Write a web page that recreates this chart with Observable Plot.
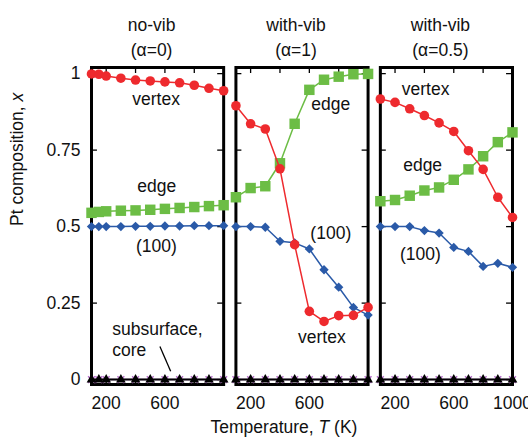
<!DOCTYPE html>
<html>
<head>
<meta charset="utf-8">
<script src="https://cdn.jsdelivr.net/npm/d3@7"></script>
<script src="https://cdn.jsdelivr.net/npm/@observablehq/plot@0.6"></script>
<style>
  html, body { margin: 0; padding: 0; background: #fff; }
</style>
</head>
<body>
<div id="chart"></div>
<script>
// ---- data ----
const panels = ["no-vib", "with-vib a1", "with-vib a0.5"];
const panelTitles = ["no-vib\n(\u03b1=0)", "with-vib\n(\u03b1=1)", "with-vib\n(\u03b1=0.5)"];

const tempsNoVib = [100, 150, 200, 300, 400, 500, 600, 700, 800, 900, 1000];
const tempsVib = [100, 200, 300, 400, 500, 600, 700, 800, 900, 1000];

const vertexNoVib = [0.999, 0.998, 0.992, 0.985, 0.979, 0.976, 0.973, 0.970, 0.962, 0.952, 0.944];
const edgeNoVib   = [0.545, 0.548, 0.550, 0.552, 0.553, 0.555, 0.558, 0.561, 0.564, 0.567, 0.570];
const faceNoVib   = [0.500, 0.500, 0.500, 0.500, 0.501, 0.501, 0.502, 0.502, 0.503, 0.503, 0.503];
const subNoVib    = [0, 0, 0, 0, 0, 0, 0, 0, 0, 0, 0];
const coreNoVib   = [0, 0, 0, 0, 0, 0, 0, 0, 0, 0, 0];

const vertexVib1 = [0.895, 0.836, 0.819, 0.689, 0.441, 0.223, 0.190, 0.209, 0.210, 0.236];
const edgeVib1   = [0.596, 0.626, 0.632, 0.707, 0.836, 0.947, 0.980, 0.990, 0.998, 0.999];
const faceVib1   = [0.500, 0.500, 0.498, 0.452, 0.447, 0.427, 0.359, 0.302, 0.236, 0.211];
const subVib1    = [0, 0, 0, 0, 0, 0, 0, 0, 0, 0];
const coreVib1   = [0, 0, 0, 0, 0, 0, 0, 0, 0, 0];

const vertexVib05 = [0.917, 0.906, 0.885, 0.863, 0.839, 0.811, 0.748, 0.687, 0.596, 0.530];
const edgeVib05   = [0.583, 0.587, 0.601, 0.618, 0.628, 0.653, 0.687, 0.730, 0.776, 0.808];
const faceVib05   = [0.500, 0.500, 0.500, 0.487, 0.479, 0.432, 0.419, 0.370, 0.380, 0.367];
const subVib05    = [0, 0, 0, 0, 0, 0, 0, 0, 0, 0];
const coreVib05   = [0, 0, 0, 0, 0, 0, 0, 0, 0, 0];

const yTicks = [0, 0.25, 0.5, 0.75, 1];
const yTickLabels = ["0", "0.25", "0.5", "0.75", "1"];
const xTickMarks = [200, 400, 600, 800];
const xTickLabelsByPanel = [[200, 600], [200, 600], [200, 600, 1000]];

// annotation labels (label anchor in data space: T, x)
const annotations = [
  {panel: 0, T: 540, x: 0.915, label: "vertex", anchor: "middle"},
  {panel: 0, T: 545, x: 0.631, label: "edge", anchor: "middle"},
  {panel: 0, T: 542, x: 0.435, label: "(100)", anchor: "middle"},
  {panel: 0, T: 241, x: 0.134, label: "subsurface,\ncore", anchor: "start"},
  {panel: 1, T: 746, x: 0.898, label: "edge", anchor: "middle"},
  {panel: 1, T: 746, x: 0.479, label: "(100)", anchor: "middle"},
  {panel: 1, T: 685, x: 0.138, label: "vertex", anchor: "middle"},
  {panel: 2, T: 408, x: 0.950, label: "vertex", anchor: "middle"},
  {panel: 2, T: 388, x: 0.699, label: "edge", anchor: "middle"},
  {panel: 2, T: 373, x: 0.408, label: "(100)", anchor: "middle"}
];
const leader = [{panel: 0, T1: 566, x1: 0.108, T2: 639, x2: 0.027}];

// ---- build tables ----
const seriesByPanel = [
  {temps: tempsNoVib, vertex: vertexNoVib, edge: edgeNoVib, face: faceNoVib, sub: subNoVib, core: coreNoVib},
  {temps: tempsVib, vertex: vertexVib1, edge: edgeVib1, face: faceVib1, sub: subVib1, core: coreVib1},
  {temps: tempsVib, vertex: vertexVib05, edge: edgeVib05, face: faceVib05, sub: subVib05, core: coreVib05}
];
const rows = [];
seriesByPanel.forEach((s, i) => {
  for (const key of ["core", "sub", "face", "edge", "vertex"]) {
    s.temps.forEach((T, j) => rows.push({panel: panels[i], series: key, T, x: s[key][j]}));
  }
});
const of = k => rows.filter(d => d.series === k);

const titleRows = panels.map((p, i) => ({panel: p, title: panelTitles[i]}));
const xLabelRows = [];
xTickLabelsByPanel.forEach((arr, i) => arr.forEach(T => xLabelRows.push({panel: panels[i], T})));
const yLabelRows = yTicks.map((v, i) => ({panel: panels[0], v, label: yTickLabels[i]}));
const annRows = annotations.map(a => ({...a, panel: panels[a.panel]}));
const leaderRows = leader.map(a => ({...a, panel: panels[a.panel]}));

const RED = "#ee2a2e", GREEN = "#6cbd45", BLUE = "#2a5aa8", PURPLE = "#b56bc9";
const FS = 17.5;
const tickLen = 6;
const frameH = 384 - 67;
const bandW = 132.2;

const chart = Plot.plot({
  width: 528,
  height: 438,
  marginLeft: 91,
  marginRight: 16,
  marginTop: 67,
  marginBottom: 54,
  style: {fontFamily: "'Liberation Sans', Arial, sans-serif", fontSize: FS + "px", background: "#fff", color: "#111"},
  fx: {domain: panels, paddingInner: 0.085, paddingOuter: 0, round: false, axis: null, label: null},
  x: {domain: [100, 1000], axis: null},
  y: {domain: [-0.016, 1.02], axis: null},
  marks: [
    Plot.frame({stroke: "black", strokeWidth: 3}),
    // inward ticks
    Plot.tickX(xTickMarks, {x: d => d, insetTop: frameH - tickLen, stroke: "black", strokeWidth: 1.3}),
    Plot.tickX(xTickMarks, {x: d => d, insetBottom: frameH - tickLen, stroke: "black", strokeWidth: 1.3}),
    Plot.tickY(yTicks, {y: d => d, insetRight: bandW - tickLen, stroke: "black", strokeWidth: 1.3}),
    Plot.tickY(yTicks, {y: d => d, insetLeft: bandW - tickLen, stroke: "black", strokeWidth: 1.3}),
    // subsurface & core
    Plot.line(of("sub"), {x: "T", y: "x", fx: "panel", stroke: PURPLE, strokeWidth: 1.5}),
    Plot.dot(of("sub"), {x: "T", y: "x", fx: "panel", symbol: "times", stroke: PURPLE, strokeWidth: 1.5, r: 3.2}),
    Plot.line(of("core"), {x: "T", y: "x", fx: "panel", stroke: "black", strokeWidth: 2}),
    Plot.dot(of("core"), {x: "T", y: "x", fx: "panel", symbol: "triangle", fill: "black", r: 3.6}),
    // (100)
    Plot.line(of("face"), {x: "T", y: "x", fx: "panel", stroke: BLUE, strokeWidth: 1.5}),
    Plot.dot(of("face"), {x: "T", y: "x", fx: "panel", symbol: "diamond2", fill: BLUE, r: 4.2}),
    // edge
    Plot.line(of("edge"), {x: "T", y: "x", fx: "panel", stroke: GREEN, strokeWidth: 1.5}),
    Plot.dot(of("edge"), {x: "T", y: "x", fx: "panel", symbol: "square", fill: GREEN, r: 5.9}),
    // vertex
    Plot.line(of("vertex"), {x: "T", y: "x", fx: "panel", stroke: RED, strokeWidth: 1.5}),
    Plot.dot(of("vertex"), {x: "T", y: "x", fx: "panel", symbol: "circle", fill: RED, r: 4.8}),
    // annotations
    Plot.text(annRows.filter(a => a.anchor === "middle"), {x: "T", y: "x", fx: "panel", text: "label", fill: "#111"}),
    Plot.text(annRows.filter(a => a.anchor === "start"), {x: "T", y: "x", fx: "panel", text: "label", textAnchor: "start", lineHeight: 1.2, fill: "#111"}),
    Plot.link(leaderRows, {x1: "T1", y1: "x1", x2: "T2", y2: "x2", fx: "panel", stroke: "black", strokeWidth: 1.3}),
    // tick labels
    Plot.text(xLabelRows, {x: "T", fx: "panel", frameAnchor: "bottom", lineAnchor: "middle", text: d => String(d.T), dy: 19, fill: "#111"}),
    Plot.text(yLabelRows, {y: "v", fx: "panel", frameAnchor: "left", text: "label", textAnchor: "end", dx: -11, fill: "#111"}),
    // facet titles
    Plot.text(titleRows, {fx: "panel", frameAnchor: "top", lineAnchor: "middle", text: "title", dy: -32.5, dx: -6, lineHeight: 1.43, fill: "#111"}),
    // axis titles
    Plot.text([{panel: panels[0]}], {fx: "panel", frameAnchor: "left", text: () => "Pt composition, x", rotate: -90, dx: -74, fill: "#111"}),
    Plot.text([{panel: panels[1]}], {fx: "panel", frameAnchor: "bottom", lineAnchor: "middle", text: () => "Temperature, T (K)", dx: -18, dy: 43, fill: "#111"})
  ]
});

// italic variables in axis titles
chart.querySelectorAll("text").forEach(t => {
  if (t.textContent === "Pt composition, x") {
    t.textContent = "Pt composition, ";
    const ts = document.createElementNS("http://www.w3.org/2000/svg", "tspan");
    ts.setAttribute("font-style", "italic");
    ts.textContent = "x";
    t.appendChild(ts);
  } else if (t.textContent === "Temperature, T (K)") {
    t.textContent = "Temperature, ";
    const ts = document.createElementNS("http://www.w3.org/2000/svg", "tspan");
    ts.setAttribute("font-style", "italic");
    ts.textContent = "T";
    t.appendChild(ts);
    t.appendChild(document.createTextNode(" (K)"));
  }
});

document.getElementById("chart").appendChild(chart);
</script>
</body>
</html>
